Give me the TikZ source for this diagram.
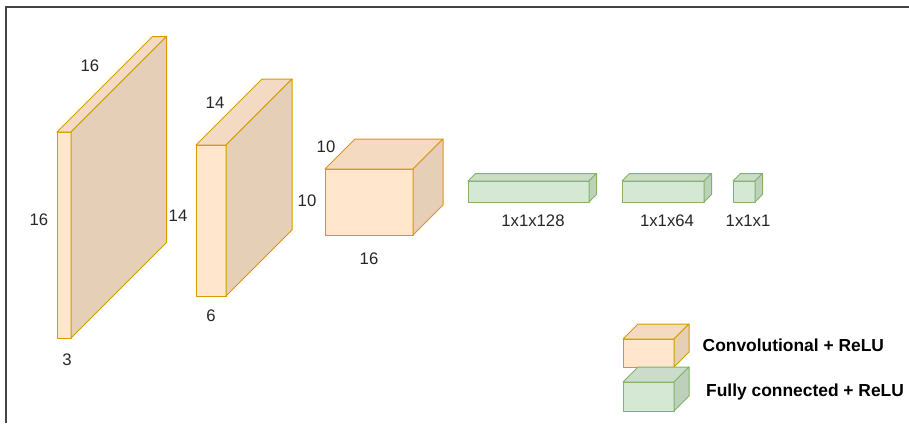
\documentclass[tikz,border=0pt]{standalone}
\usepackage{fontspec}
\setmainfont{Liberation Sans}
\definecolor{ofront}{HTML}{FFE6CC}
\definecolor{otop}{HTML}{F3DAC1}
\definecolor{oside}{HTML}{E5CFB7}
\definecolor{ostroke}{HTML}{D79B00}
\definecolor{gfront}{HTML}{D5E8D4}
\definecolor{gtop}{HTML}{CBDDCA}
\definecolor{gside}{HTML}{BDD0BC}
\definecolor{gstroke}{HTML}{82B366}
\definecolor{frame}{HTML}{444444}
\newcommand{\cuboid}[6]{% #1 colour prefix, #2 x1, #3 y1, #4 x2, #5 y2, #6 depth
  \filldraw[fill=#1front,draw=#1stroke,line width=1pt,line join=round] (#2,#3) rectangle (#4,#5);
  \filldraw[fill=#1top,draw=#1stroke,line width=1pt,line join=round] (#2,#3) -- (#2+#6,#3-#6) -- (#4+#6,#3-#6) -- (#4,#3) -- cycle;
  \filldraw[fill=#1side,draw=#1stroke,line width=1pt,line join=round] (#4,#3) -- (#4+#6,#3-#6) -- (#4+#6,#5-#6) -- (#4,#5) -- cycle;
}
\tikzset{
  lbl/.style={inner sep=0pt, font=\fontsize{16.7}{20}\selectfont, text=black!85},
  leg/.style={inner sep=0pt, anchor=base west, font=\fontsize{17.4}{21}\selectfont\bfseries, text=black}
}
\begin{document}
\begin{tikzpicture}[x=1pt,y=-1pt]
\useasboundingbox (0,0) rectangle (909,423);
% frame
\draw[frame,line width=1.5pt] (6,423) -- (6,7) -- (909,7);
% conv blocks
\cuboid{o}{57}{132}{71}{338}{95.5}
\cuboid{o}{196}{145}{226}{296}{66}
\cuboid{o}{325}{169}{413}{235}{30}
% fc blocks
\cuboid{g}{468}{181}{589}{202}{7.5}
\cuboid{g}{622}{181}{704}{202}{7.5}
\cuboid{g}{733}{181}{755}{202}{7.5}
% legend
\cuboid{o}{623}{339}{674}{367}{15}
\cuboid{g}{623}{382}{674}{411}{15}
% labels
\node[lbl] (l1a) at (90,66) {16};
\node[lbl] (l1b) at (39,220) {16};
\node[lbl] (l1c) at (178,216) {14};
\node[lbl] (l1d) at (67,360) {3};
\node[lbl] (l2a) at (215,103) {14};
\node[lbl] (l2b) at (211,316) {6};
\node[lbl] (l3a) at (307,201) {10};
\node[lbl] (l3b) at (326,147) {10};
\node[lbl] (l3c) at (369,259) {16};
\node[lbl] (l4) at (533,221) {1x1x128};
\node[lbl] (l5) at (667,221) {1x1x64};
\node[lbl] (l6) at (748,221) {1x1x1};
\node[leg] (leg1) at (702.5,351.5) {Convolutional + ReLU};
\node[leg] (leg2) at (706,396.5) {Fully connected + ReLU};
\end{tikzpicture}
\end{document}
